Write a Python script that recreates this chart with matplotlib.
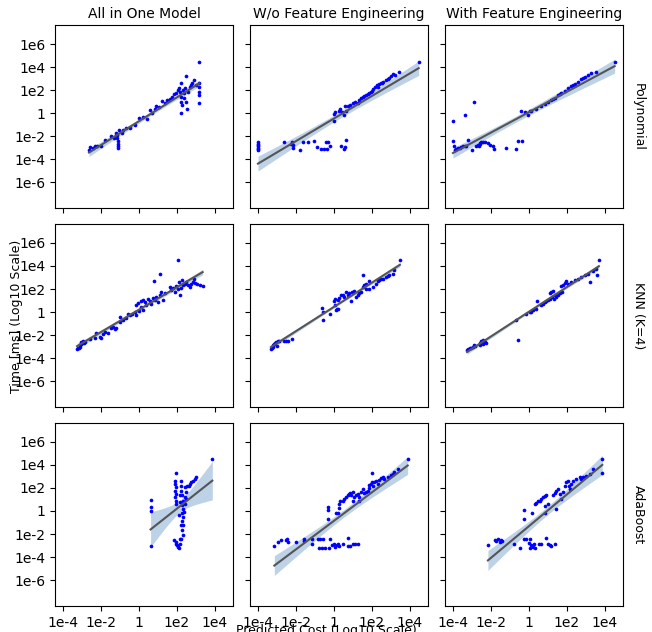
import numpy as np
import matplotlib
matplotlib.use("Agg")
import matplotlib.pyplot as plt

# all values are log10 of the real numbers
ColTitles = ["All in One Model", "W/o Feature Engineering", "With Feature Engineering"]
RowTitles = ["Polynomial", "KNN (K=4)", "AdaBoost"]

# ---Polynomial---
PolyAllX = [-2.63, -2.56, -2.42, -2.33, -2.21, -1.98, -1.81, -1.49, -1.33, -1.23, -1.16, -1.14, -1.12, -1.12, -1.11,
            -1.09, -1.07, -0.89, -0.84, -0.67, -0.46, -0.23, -0.02, 0.21, 0.42, 0.56, 0.68, 0.82, 0.91, 1.05, 1.23,
            1.35, 1.49, 1.61, 1.75, 1.84, 1.96, 2.05, 2.11, 2.21, 2.18, 2.23, 2.23, 2.25, 2.21, 2.32, 2.37, 2.37,
            2.42, 2.46, 2.49, 2.51, 2.58, 2.67, 2.75, 2.81, 2.88, 3.02, 3.16, 3.16, 3.16, 3.16, 3.16, 3.16]
PolyAllY = [-3.19, -2.99, -3.05, -2.84, -2.90, -2.90, -2.32, -1.98, -2.18, -1.75, -1.89, -2.18, -2.47, -2.67, -2.84,
            -3.05, -1.51, -1.75, -1.51, -1.31, -1.31, -1.02, -0.39, -0.36, -0.50, 0.28, -0.01, 0.34, 0.62, 0.51, 1.06,
            0.91, 1.14, 1.20, 1.38, 1.66, 1.78, 2.01, 2.16, 2.65, 1.87, 1.43, 1.00, 0.71, -0.01, 2.01, 1.72, 1.29,
            2.16, 1.00, 3.23, 0.34, 1.87, 2.30, 2.45, 2.65, 2.88, 2.45, 4.47, 2.59, 2.30, 1.87, 1.58, 0.91]

PolyNoFeX = [-4.0, -4.0, -4.0, -4.0, -4.0, -4.0, -4.0, -2.65, -2.26, -2.21, -2.18, -2.14, -1.77, -1.61, -1.39, -1.07,
             -0.91, -0.68, -0.51, -0.39, -0.42, -0.30, -0.19, 0.37, 0.51, 0.60, 0.63, -0.02, -0.02, 0.04, 0.25, 0.32,
             0.40, 0.51, 0.63, 0.58, 0.72, 0.84, 0.98, 1.12, 1.25, 1.30, 1.42, 1.54, 1.68, 1.82, 1.95, 2.07, 2.18,
             2.25, 2.35, 2.47, 2.60, 2.74, 2.88, 3.00, 3.12, 3.23, 3.44, 4.46, 1.60, 1.77, 2.00, 2.30, 2.53, 2.82]
PolyNoFeY = [-2.55, -2.67, -2.79, -2.90, -3.02, -3.13, -3.25, -2.55, -2.67, -2.55, -2.79, -3.05, -3.19, -2.55, -2.53,
             -2.47, -2.96, -3.10, -3.10, -3.10, -2.55, -2.53, -2.90, -2.90, -3.10, -2.96, -2.38, -0.73, -0.07, 0.05,
             0.19, 0.34, 0.05, -0.16, 0.19, 0.57, 0.62, 0.71, 0.86, 1.00, 0.91, 1.14, 1.29, 1.43, 1.58, 1.72, 1.87,
             2.07, 2.30, 2.45, 2.50, 2.59, 2.73, 2.88, 3.02, 3.23, 3.40, 3.31, 3.60, 4.47, 1.49, 1.66, 1.95, 2.30,
             2.65, 2.94]

PolyFeX = [-4.0, -4.0, -3.96, -3.91, -3.82, -3.74, -3.65, -3.56, -3.47, -3.39, -3.30, -3.21, -3.39, -2.91, -2.98,
           -2.77, -2.68, -2.63, -2.60, -2.56, -2.51, -2.42, -2.33, -2.16, -2.07, -1.89, -1.86, -1.23, -0.70, -0.58,
           -0.37, -0.40, -0.23, -0.05, 0.04, 0.12, 0.35, 0.65, 0.82, 1.00, 1.18, 1.35, 1.53, 1.70, 1.88, 2.05, 2.23,
           2.40, 2.58, 2.75, 2.93, 3.11, 3.28, 3.54, 2.32, 2.84, 1.61, 1.26, 4.51]
PolyFeY = [-0.68, -2.47, -2.90, -3.19, -3.13, -3.05, -3.05, -2.96, -2.90, -2.90, -2.84, -2.32, -0.16, 0.94, -3.19,
           -2.90, -2.76, -2.84, -2.61, -2.67, -2.55, -2.53, -2.55, -2.61, -2.76, -2.90, -3.13, -3.05, -3.13, -2.47,
           -2.47, 0.19, 0.13, -0.16, 0.22, 0.22, 0.34, 0.62, 0.80, 1.00, 1.14, 1.35, 1.58, 1.72, 1.95, 2.16, 2.36,
           2.53, 2.73, 2.94, 3.11, 3.31, 3.46, 3.60, 2.45, 3.02, 1.66, 1.26, 4.47]

# ---KNN---
KnnAllX = [-3.26, -3.21, -3.16, -3.12, -3.09, -3.04, -3.04, -2.98, -2.95, -2.91, -2.86, -2.60, -2.33, -2.25, -2.07,
           -1.98, -1.89, -1.81, -1.63, -1.46, -1.37, -1.28, -1.19, -1.02, -1.02, -0.84, -0.67, -0.58, -0.49, -0.35,
           -0.23, -0.14, -0.02, 0.12, 0.21, -0.18, -0.05, 0.12, 0.21, 0.30, 0.39, 0.47, 0.56, 0.65, 0.74, 0.82, 0.91,
           1.00, 1.09, 1.18, 1.26, 1.35, 0.77, 1.12, 2.05, 1.61, 1.70, 1.79, 1.88, 1.96, 2.05, 2.11, 2.14, 2.23, 2.28,
           2.32, 2.40, 2.49, 2.58, 2.67, 2.75, 2.84, 2.88, 2.93, 3.05, 3.20, 3.35]
KnnAllY = [-3.25, -3.16, -3.10, -3.02, -2.87, -2.82, -2.58, -2.73, -2.53, -2.67, -2.58, -2.35, -2.29, -1.86, -2.15,
           -2.29, -1.95, -1.72, -1.80, -1.43, -1.28, -1.49, -1.37, -0.42, -0.85, -0.71, -0.56, -0.21, -0.27, -0.13,
           0.02, -0.27, 0.10, 0.45, 0.16, 0.65, 0.80, 0.94, 1.03, 0.83, 0.60, 1.17, 0.94, 0.74, 1.23, 1.03, 1.32,
           0.83, 1.46, 1.75, 1.03, 1.69, 2.68, 3.28, 4.50, 2.18, 1.90, 2.10, 1.75, 2.27, 1.98, 2.62, 1.52, 2.10, 2.76,
           2.33, 2.47, 2.62, 2.33, 2.18, 2.47, 2.62, 2.91, 2.53, 2.40, 2.33, 2.30]

KnnNoFeX = [-3.32, -3.26, -3.23, -3.19, -3.14, -3.09, -3.05, -3.00, -2.96, -2.88, -2.61, -2.53, -2.44, -2.21, -0.63,
            -0.60, -0.60, -0.21, 0.02, 0.07, 0.11, 0.14, 0.21, 0.07, 0.19, 0.28, 0.37, 0.46, 0.54, 0.63, 0.72, 0.81,
            0.89, 0.95, 1.07, 1.16, 1.25, 1.51, 1.60, 1.68, 1.82, 1.51, 1.33, 1.42, 1.68, 1.86, 2.04, 2.21, 2.39,
            2.47, 2.56, 2.74, 2.91, 3.09, 3.18, 2.30, 2.82, 3.47]
KnnNoFeY = [-3.22, -3.10, -3.02, -2.87, -2.82, -2.73, -2.64, -2.96, -2.53, -2.50, -2.50, -2.53, -2.50, -2.35, 0.31,
            -0.04, -0.71, -0.18, 0.94, 0.65, 0.16, 0.22, 0.25, 1.17, 1.03, 1.23, 1.46, 1.52, 1.32, 1.75, 1.52, 1.61,
            0.94, 1.75, 1.81, 1.32, 1.46, 3.25, 2.33, 2.47, 2.68, 2.18, 1.61, 1.75, 1.98, 2.04, 2.18, 2.47, 2.76,
            2.91, 2.91, 3.05, 3.20, 3.34, 3.63, 2.68, 3.14, 4.50]

KnnFeX = [-3.26, -3.19, -3.12, -3.04, -2.95, -2.86, -2.91, -2.60, -2.51, -2.42, -2.33, -2.60, -2.42, -2.28, -2.46,
          -0.58, -0.70, -0.18, 0.04, 0.12, 0.21, 0.35, 0.42, 0.65, 0.74, 0.82, 0.91, 1.00, 1.09, 1.18, 1.26, 1.12,
          1.23, 1.30, 1.35, 1.44, 1.53, 1.61, 1.75, 1.70, 1.79, 1.88, 1.96, 2.05, 2.23, 2.40, 2.58, 2.75, 2.93,
          3.11, 3.37, 3.54, 3.23, 3.58, 3.68]
KnnFeY = [-3.31, -3.22, -3.16, -3.10, -3.08, -2.96, -2.87, -2.73, -2.53, -2.44, -2.58, -2.87, -2.82, -2.67, -2.64,
          -2.47, -0.73, -0.18, 0.02, 0.02, 0.16, 0.25, 0.94, 0.60, 0.74, 0.83, 0.94, 1.03, 1.61, 1.75, 1.81, 1.17,
          1.32, 1.12, 1.46, 1.32, 1.52, 1.61, 1.75, 2.27, 2.33, 2.53, 2.68, 2.47, 2.62, 2.76, 2.91, 3.05, 3.20,
          3.34, 3.54, 3.77, 2.62, 3.25, 4.50]

# ---AdaBoost---
AdaAllX = [0.61, 0.61, 0.61, 0.61, 1.96, 1.88, 1.88, 1.93, 1.88, 1.93, 1.88, 1.93, 1.96, 1.84, 1.93, 1.96, 2.00,
           2.05, 2.11, 2.23, 2.23, 2.23, 2.28, 2.32, 2.28, 2.32, 2.28, 2.32, 2.28, 2.32, 2.28, 2.32, 2.23, 2.18,
           2.40, 2.40, 2.40, 2.46, 2.49, 2.14, 2.14, 2.11, 2.35, 2.23, 2.14, 2.54, 2.61, 2.67, 2.75, 2.84, 2.93,
           2.98, 3.86]
AdaAllY = [0.97, 0.39, -0.01, -3.05, 3.31, 2.65, 2.36, 2.07, 1.78, 1.49, 1.20, 0.91, 0.62, -2.55, -2.70, -2.84,
           -2.99, -3.13, -3.22, 2.65, 2.21, 1.78, 1.35, 0.91, 0.54, 0.19, -0.16, -0.53, -0.91, -1.25, -1.69, -2.06,
           -2.47, -2.84, 2.07, 1.20, 0.62, 1.64, 1.06, 1.35, 0.77, -0.39, -0.10, -1.25, -2.41, 2.21, 2.16, 2.36,
           2.50, 2.65, 2.79, 2.94, 4.53]

AdaNoFeX = [-3.14, -2.96, -2.79, -2.53, -2.44, -2.47, -2.00, -1.56, -1.56, -1.18, -1.16, -0.86, -0.74, -0.56, -0.77,
            -0.63, -0.47, -0.25, -0.19, -0.11, 0.02, 0.07, 0.14, 0.23, 0.28, 0.46, 0.72, 0.72, 0.86, 1.02, 1.12, 1.25,
            -0.33, -0.33, -0.33, 0.11, 0.19, 0.28, 0.28, 0.33, 0.46, 0.54, 0.63, 0.72, 0.77, 0.84, 0.89, 0.98, 1.02,
            1.07, 1.16, 1.25, 1.30, 1.33, 1.42, 1.51, 1.60, 1.68, 1.77, 1.86, 1.86, 1.95, 2.00, 2.00, 2.07, 2.12,
            2.21, 2.30, 2.39, 2.47, 2.56, 2.65, 2.82, 3.00, 3.09, 3.18, 3.35, 3.88]
AdaNoFeY = [-3.05, -2.70, -2.55, -2.55, -2.70, -2.47, -2.70, -2.64, -2.47, -2.90, -2.47, -2.47, -2.47, -2.47, -3.19,
            -3.19, -3.19, -3.19, -2.47, -2.99, -2.84, -3.13, -2.99, -2.84, -3.08, -2.90, -3.08, -2.32, -3.05, -2.90,
            -2.84, -2.90, 0.39, 0.05, -0.68, -0.16, -0.16, 0.25, 0.62, 0.91, 0.91, 1.06, 1.20, 1.35, 1.49, 1.58, 1.35,
            1.69, 0.91, 1.20, 1.35, 1.49, 0.91, 1.20, 1.64, 1.87, 1.58, 1.69, 1.78, 1.98, 2.27, 2.36, 2.56, 3.31,
            2.21, 2.50, 2.65, 2.36, 2.73, 2.85, 2.94, 2.79, 2.94, 3.14, 3.23, 3.37, 3.66, 4.53]

AdaFeX = [-2.16, -1.77, -1.72, -1.63, -1.54, -1.46, -1.40, -0.81, -0.46, -0.26, -0.14, 0.04, 0.12, 0.21, 0.00, 0.04,
          0.26, 0.30, 0.53, 0.65, 0.91, 1.00, 1.09, 1.18, 1.39, -0.28, -0.26, 0.16, 0.30, 0.39, 0.47, 0.56, 0.65,
          0.74, 0.82, 0.91, 0.82, 1.40, 0.82, 1.00, 1.26, 1.35, 1.40, 1.53, 1.61, 1.70, 1.79, 1.88, 1.96, 2.05,
          2.11, 2.14, 2.23, 2.32, 2.49, 2.67, 2.75, 2.84, 3.02, 3.19, 3.37, 3.86, 3.86]
AdaFeY = [-2.99, -2.55, -2.64, -2.47, -2.70, -2.55, -2.64, -2.90, -3.19, -2.47, -2.47, -3.19, -2.93, -3.13, -2.76,
          -2.47, -2.84, -3.22, -2.84, -2.84, -2.35, -2.90, -2.99, -3.08, -2.90, 0.05, -0.68, -0.16, 0.62, 0.71, 0.83,
          0.91, 1.06, 1.20, 1.26, 1.35, -0.16, 0.19, 0.42, 0.62, 1.35, 1.58, 1.78, 1.87, 1.49, 1.00, 1.64, 2.21,
          2.50, 2.65, 2.21, 1.92, 2.36, 2.65, 2.79, 2.94, 2.79, 2.94, 3.08, 3.23, 3.66, 4.53, 3.31]

Grid = [[(PolyAllX, PolyAllY), (PolyNoFeX, PolyNoFeY), (PolyFeX, PolyFeY)],
        [(KnnAllX, KnnAllY), (KnnNoFeX, KnnNoFeY), (KnnFeX, KnnFeY)],
        [(AdaAllX, AdaAllY), (AdaNoFeX, AdaNoFeY), (AdaFeX, AdaFeY)]]

TickVals = [-4, -2, 0, 2, 4]
TickLabels = ["1e-4", "1e-2", "1", "1e2", "1e4"]
YTickVals = [-6, -4, -2, 0, 2, 4, 6]
YTickLabels = ["1e-6", "1e-4", "1e-2", "1", "1e2", "1e4", "1e6"]

PointColour = "blue"
LineColour = "#555555"
BandColour = "#7fa6d0"


def RegLine(X, Y):
    """Least squares line with a 95% band for the mean"""
    X = np.array(X)
    Y = np.array(Y)
    n = len(X)
    Grad, Icpt = np.polyfit(X, Y, 1)
    Xs = np.linspace(X.min(), X.max(), 100)
    Fit = Icpt + Grad * Xs
    Resid = Y - (Icpt + Grad * X)
    s = np.sqrt(np.sum(Resid ** 2) / (n - 2))
    Sxx = np.sum((X - X.mean()) ** 2)
    Se = s * np.sqrt(1 / n + (Xs - X.mean()) ** 2 / Sxx)
    return Xs, Fit, 1.98 * Se


fig, axes = plt.subplots(3, 3, figsize=(6.52, 6.32), dpi=100, sharex=True, sharey=True)
fig.subplots_adjust(left=0.0844, right=0.9555, top=0.9604, bottom=0.0411, wspace=0.0955, hspace=0.087)

for r in range(3):
    for c in range(3):
        ax = axes[r][c]
        X, Y = Grid[r][c]
        Xs, Fit, Band = RegLine(X, Y)
        ax.fill_between(Xs, Fit - Band, Fit + Band, color=BandColour, alpha=0.5, lw=0, zorder=1)
        ax.scatter(X, Y, s=7, c=PointColour, zorder=2, linewidths=0)
        ax.plot(Xs, Fit, color=LineColour, lw=1.5, zorder=3)
        ax.set_xlim(-4.42, 4.95)
        ax.set_ylim(-8.26, 7.65)
        ax.set_xticks(TickVals)
        ax.set_xticklabels(TickLabels)
        ax.set_yticks(YTickVals)
        ax.set_yticklabels(YTickLabels)
        if r == 0:
            ax.set_title(ColTitles[c], fontsize=10, pad=5)
        if c == 2:
            ax.text(1.05, 0.5, RowTitles[r], transform=ax.transAxes, rotation=-90,
                    va="center", ha="left", fontsize=9)

fig.text(0.026, 0.5, "Time [ms] (Log10 Scale)", rotation=90, va="center", ha="center", fontsize=9)
fig.text(0.5, 0.002, "Predicted Cost (Log10 Scale)", va="center", ha="center", fontsize=9)

fig.savefig("out.png", dpi=100)
